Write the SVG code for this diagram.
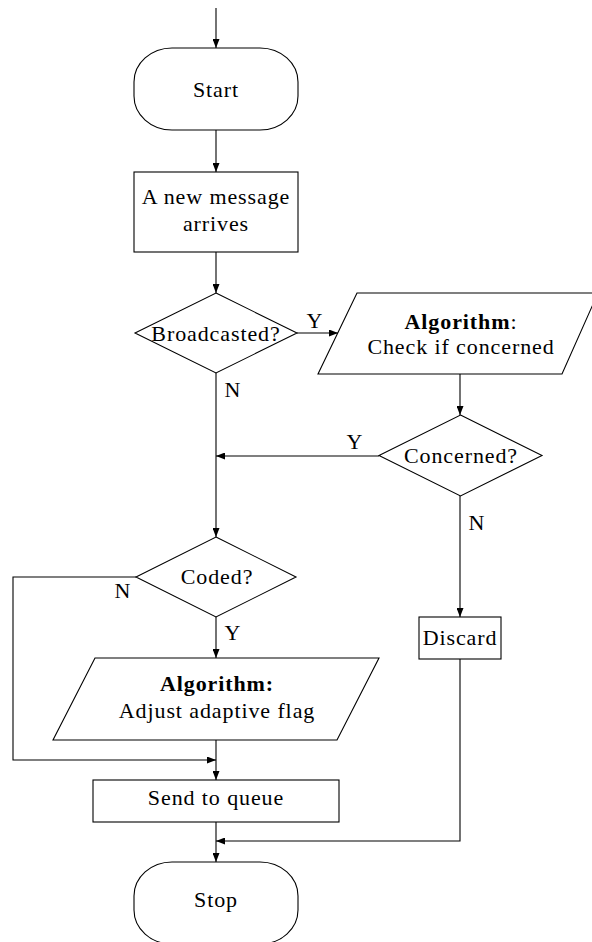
<svg xmlns="http://www.w3.org/2000/svg" width="592" height="942" viewBox="0 0 592 942">
<style>
.s{fill:#fff;stroke:#000;stroke-width:1.1}
.t{font-family:"Liberation Serif","Times New Roman",serif;font-size:22px;fill:#000;text-anchor:middle;letter-spacing:0.9px}
.b{font-weight:bold}
.c{fill:none;stroke:#000;stroke-width:1.1}
</style>
<defs>
<marker id="ah" markerWidth="9" markerHeight="7" refX="9" refY="3.5" orient="auto" markerUnits="userSpaceOnUse">
<path d="M0,0 L9,3.5 L0,7 z" fill="#000"/>
</marker>
</defs>
<g id="connectors">
<path class="c" d="M216,8 V48" marker-end="url(#ah)"/>
<path class="c" d="M216,130 V172" marker-end="url(#ah)"/>
<path class="c" d="M216,252 V293" marker-end="url(#ah)"/>
<path class="c" d="M297,333 H338" marker-end="url(#ah)"/>
<path class="c" d="M216,373 V537" marker-end="url(#ah)"/>
<path class="c" d="M460,374 V415" marker-end="url(#ah)"/>
<path class="c" d="M379,456 H216" marker-end="url(#ah)"/>
<path class="c" d="M460,496 V617" marker-end="url(#ah)"/>
<path class="c" d="M460,659 V841 H216" marker-end="url(#ah)"/>
<path class="c" d="M136,577 H13 V760 H216" marker-end="url(#ah)"/>
<path class="c" d="M216,617 V658" marker-end="url(#ah)"/>
<path class="c" d="M216,740 V780" marker-end="url(#ah)"/>
<path class="c" d="M216,822 V862" marker-end="url(#ah)"/>
<text class="t" x="315" y="328">Y</text>
<text class="t" x="233" y="397">N</text>
<text class="t" x="355" y="449">Y</text>
<text class="t" x="477" y="530">N</text>
<text class="t" x="123" y="598">N</text>
<text class="t" x="233" y="640">Y</text>
</g>
<g id="start">
<rect class="s" x="134" y="48" width="164" height="82" rx="38" ry="34"/>
<text class="t" x="216" y="97">Start</text>
</g>
<g id="arrives">
<rect class="s" x="134" y="172" width="164" height="80"/>
<text class="t" x="216" y="204">A new message</text>
<text class="t" x="216" y="231">arrives</text>
</g>
<g id="broadcasted">
<polygon class="s" points="216,293 297,333 216,373 135,333"/>
<text class="t" x="216" y="341">Broadcasted?</text>
</g>
<g id="checkconcerned">
<polygon class="s" points="357,293 598,293 562,374 318,374"/>
<text class="t" x="461" y="329"><tspan class="b">Algorithm</tspan>:</text>
<text class="t" x="461" y="354">Check if concerned</text>
</g>
<g id="concerned">
<polygon class="s" points="460.5,415 542,455.5 460.5,496 379,455.5"/>
<text class="t" x="461" y="463">Concerned?</text>
</g>
<g id="discard">
<rect class="s" x="419" y="617" width="82" height="42"/>
<text class="t" x="460" y="645">Discard</text>
</g>
<g id="coded">
<polygon class="s" points="216,537 296,577 216,617 136,577"/>
<text class="t" x="217" y="584">Coded?</text>
</g>
<g id="adjust">
<polygon class="s" points="95,658 379,658 337,740 53,740"/>
<text class="t b" x="217" y="691">Algorithm:</text>
<text class="t" x="217" y="718">Adjust adaptive flag</text>
</g>
<g id="queue">
<rect class="s" x="93" y="780" width="246" height="42"/>
<text class="t" x="216" y="805">Send to queue</text>
</g>
<g id="stop">
<rect class="s" x="134" y="862" width="164" height="82" rx="38" ry="34"/>
<text class="t" x="216" y="907">Stop</text>
</g>
</svg>
